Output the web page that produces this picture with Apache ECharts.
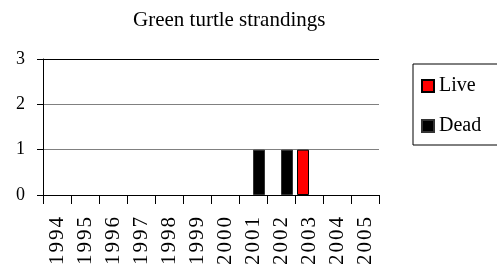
<!DOCTYPE html>
<html>
<head>
<meta charset="utf-8">
<script src="https://cdn.jsdelivr.net/npm/echarts@6/dist/echarts.min.js"></script>
<style>
  html, body { margin: 0; padding: 0; background: #fff; }
  #chart { width: 497px; height: 273px; }
</style>
</head>
<body>
<div id="chart"></div>
<script>
// 年份类别
const years = ['1994', '1995', '1996', '1997', '1998', '1999', '2000', '2001', '2002', '2003', '2004', '2005'];
// 各系列数值
const liveCounts = [0, 0, 0, 0, 0, 0, 0, 0, 0, 1, 0, 0];
const deadCounts = [0, 0, 0, 0, 0, 0, 0, 1, 1, 0, 0, 0];
const yTicks = [0, 1, 2, 3];

const serif = '"Liberation Serif", "DejaVu Serif", serif';

// 零值柱子不画边框
function toBarData(values) {
  return values.map(v => v === 0 ? {value: v, itemStyle: {borderWidth: 0}} : v);
}

const chart = echarts.init(document.getElementById('chart'));

chart.setOption({
  animation: false,
  textStyle: {fontFamily: serif},
  title: {
    text: 'Green turtle strandings',
    left: 128,
    top: 5,
    textStyle: {fontFamily: serif, fontWeight: 'normal', fontSize: 21, color: '#000'}
  },
  grid: {left: 43, right: 118, top: 59, bottom: 78},
  legend: {
    orient: 'vertical',
    left: 413,
    top: 64,
    padding: [12, 20, 9, 8],
    itemWidth: 12,
    itemHeight: 12,
    itemGap: 20,
    borderColor: '#000',
    borderWidth: 1,
    icon: 'rect',
    textStyle: {fontFamily: serif, fontSize: 20, color: '#000'},
    data: ['Live', 'Dead']
  },
  xAxis: {
    type: 'category',
    data: years,
    axisLine: {lineStyle: {color: '#000', width: 1}},
    axisTick: {show: true, interval: 0, length: 9, lineStyle: {color: '#000'}},
    axisLabel: {
      interval: 0,
      rotate: 90,
      margin: 21,
      fontFamily: serif,
      fontSize: 21,
      color: '#000',
      formatter: (v) => v.split('').map(c => '{d|' + c + '}').join(''),
      rich: {
        d: {fontFamily: serif, fontSize: 21, color: '#000', padding: [0, 1, 0, 1]}
      }
    }
  },
  yAxis: {
    type: 'value',
    min: yTicks[0],
    max: yTicks[yTicks.length - 1],
    interval: 1,
    axisLine: {show: true, lineStyle: {color: '#000', width: 1}},
    axisTick: {show: true, length: 6, lineStyle: {color: '#000'}},
    axisLabel: {margin: 18, fontFamily: serif, fontSize: 18, color: '#000'},
    splitLine: {lineStyle: {color: ['#808080', '#808080', '#808080', '#000'], width: 1}}
  },
  series: [
    {
      name: 'Live',
      type: 'bar',
      data: toBarData(liveCounts),
      barWidth: 12,
      barGap: '0%',
      itemStyle: {color: '#ff0000', borderColor: '#000', borderWidth: 1}
    },
    {
      name: 'Dead',
      type: 'bar',
      data: toBarData(deadCounts),
      barWidth: 12,
      barGap: '0%',
      itemStyle: {color: '#000000', borderColor: '#333', borderWidth: 1}
    }
  ]
});
</script>
</body>
</html>
